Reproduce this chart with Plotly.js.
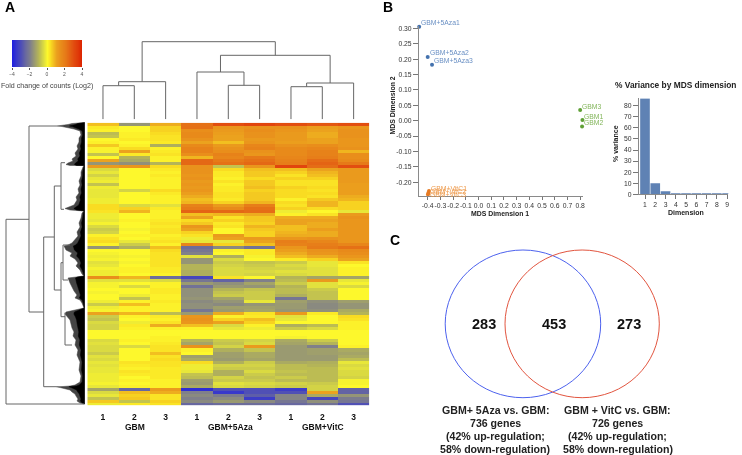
<!DOCTYPE html>
<html>
<head>
<meta charset="UTF-8">
<script src="https://cdn.plot.ly/plotly-3.0.1.min.js"></script>
<style>
	body { margin: 0; background: #fff; }
	/* the reference is a soft scan, keep the edges soft too */
	#plot { filter: blur(0.4px); }
</style>
</head>
<body>
<div id="plot" style="width:742px;height:455px"></div>
<script>
	// panel A, one row per gene cluster, columns GBM 1-3, 5Aza 1-3, VitC 1-3
	var heatRows = [
		[.7,-1.6,.9,2.2,3,3.2,3,2.8,3],
		[.2,0,.5,2.2,1.3,1.4,1.4,1.1,1.3],
		[.1,0,.5,1.5,1.2,1.5,1.3,1,1.4],
		[-.9,.1,.4,1.6,1.1,1.4,1.2,.9,1.4],
		[-.8,.1,.3,1.6,1,1.4,1.2,.9,1.4],
		[0,.2,.3,1.4,1,1.2,1.2,1,1.3],
		[.1,0,.2,1,.7,1.3,1.1,1,1.3],
		[.6,.1,-1.1,1.6,1.2,1.7,1.4,1.5,1.3],
		[.1,.4,.1,1.8,1.4,1.8,1.6,1.7,1.4],
		[-.1,1,.2,1.8,1.5,1.4,1.6,1.8,.8],
		[-.8,.2,.3,1.5,1.8,1.3,1.6,1.8,1.5],
		[0,-1,.1,.8,1.7,2,1.7,1.9,1.5],
		[1,-1.2,.1,2.4,2,2.2,1.8,2.3,1.6],
		[-1.6,-1.7,-1,2.4,2.2,2.4,1.9,2.5,2],
		[1.2,1.3,.4,1.4,-.8,1.3,3.2,2.3,3],
		[-.5,0,.2,1.4,.4,.7,.7,1,1.2],
		[-.3,0,.1,1.4,.2,.6,.5,.8,1.2],
		[-.6,0,.2,1.3,.2,.6,.3,.7,1.2],
		[-.3,0,.1,1.4,.1,.4,.5,.5,1.2],
		[-.2,0,.1,1.2,.3,.6,.3,.3,1.2],
		[-.8,0,.1,1.3,.1,.6,.3,.3,1.1],
		[-.2,0,.1,1.2,.2,.7,.5,.4,1.1],
		[-.3,-.6,.4,1.3,.2,.5,.4,.3,1.1],
		[-.3,0,.2,1.1,.3,.6,.4,.4,1.1],
		[-.3,0,.1,.9,.3,.6,.4,.3,.9],
		[-.2,0,.1,.7,.2,.6,.1,.6,.8],
		[-.2,0,.1,.8,.5,.8,.4,.8,.5],
		[.4,-.5,-.4,1.8,1.2,1.9,.3,.8,.5],
		[.4,.5,.2,2,1.6,2.2,.5,.4,.5],
		[.3,.8,.1,2.5,2.4,2.3,-.2,0,-.3],
		[-.2,0,.1,.7,.8,.9,.1,.3,1.2],
		[-.2,0,.1,1,.3,.6,.9,.9,1.4],
		[-.3,.1,.2,.4,.5,.6,1,1,1.3],
		[-.1,0,.3,.6,.2,.5,1,.9,1.3],
		[-.5,0,.2,1.3,.3,.8,.7,.9,1.3],
		[-.7,-.1,.3,1,0,.6,.7,1.1,1.3],
		[-.6,0,.3,.5,0,.5,.8,.9,1.3],
		[.1,.1,.1,.3,1.2,.5,.9,.9,1.3],
		[.3,0,.2,-.2,1,1.2,1.3,1.4,1.3],
		[.4,-.3,.3,-.3,-.3,1,1.9,1.7,1.3],
		[.1,-.7,.1,1.7,.5,.7,1.8,1.9,1.7],
		[-1.6,-1.1,.7,-2.4,-1.8,-2.3,1.3,2,2.2],
		[0,0,.4,-2.2,.1,.2,1.1,1.4,1.6],
		[-.1,0,.3,-2,0,.2,.9,1.3,1.5],
		[-.2,-.1,.3,-.4,-1.1,-.1,.7,.9,1.3],
		[-.1,0,.3,-1.6,-.5,0,.2,.5,1],
		[-.4,-.1,.3,-1.6,-.7,-.8,-.7,-.3,.3],
		[-.3,0,.3,-1,-.6,-.7,-.5,-.3,0],
		[-.1,.1,.2,-1,-.5,-.6,-.6,-.4,.1],
		[-.2,.1,.2,-1.1,-.5,-.5,-.4,-.4,.1],
		[-.2,0,.1,-1.1,-.5,-.6,-.5,-.4,.1],
		[1.5,.8,-2.4,-3.2,.3,0,-1,-1.3,-1.3],
		[-.4,-.4,-.5,-2.2,-2.6,-2,-.9,1.2,-.3],
		[-.1,0,.1,-1.5,-1.7,-1.3,-.7,-.4,-.1],
		[-.1,-.5,.1,-2.3,-1.5,-1.6,-1,-.4,-.5],
		[0,0,.2,-1.7,-1,-.8,-.9,-.7,0],
		[-.1,0,.2,-1.7,-.8,-.7,-.9,-.8,0],
		[0,-.2,.1,-1.7,-.7,-.7,-1.1,-.8,0],
		[0,-.8,.1,-1.6,-1.3,-.7,-2.2,-.8,0],
		[-.2,.1,.2,-1.8,-1.6,-.3,-1.4,-1.7,-1.4],
		[-.7,.7,.1,-1.7,-1.8,-1.6,-1.5,-1.8,-1.6],
		[-.2,.1,.1,-1.7,-1.4,-1.4,-1.5,-1.8,-1.6],
		[-.1,.1,.1,-2.2,-1.5,-1.3,-1.6,-1.7,-1.2],
		[1,.8,-.9,-1.5,.9,.3,1.2,.2,-1],
		[-.7,.1,.2,1.3,.1,.2,-.4,0,.4],
		[-.8,0,.1,1.4,.5,.7,-.3,0,.3],
		[-.5,-.2,.3,1.3,1,.5,0,0,.1],
		[-.6,.2,.9,.7,-.5,.1,-1.1,-.9,.1],
		[-.6,.1,.1,.1,-.3,-.2,-.7,-.5,.1],
		[0,0,0,0,0,0,0,0,0],
		[0,0,0,0,0,0,0,0,0],
		[0,0,.1,0,0,0,-.1,0,0],
		[-.5,.1,.1,-1,-.7,-.6,-1.2,-.7,0],
		[-.4,0,.2,-1.3,-.8,-.5,-1.3,-1,0],
		[-.5,-.5,.3,1.4,-.6,1.2,-1.5,-2,.1],
		[-.5,0,.3,.1,-1.1,-.8,-1.5,-1.4,-1.2],
		[-.7,0,.7,0,-1.4,-1.2,-1.5,-1.4,-1.3],
		[-.4,0,.3,-1.4,-1.4,-1.2,-1.5,-1.5,-1.2],
		[-.5,0,.4,-1.2,-1.5,-1.3,-1.5,-1.5,-.9],
		[-.3,.3,.3,.4,-1.1,-.7,-1.2,-1.1,-.3],
		[-.4,.2,.3,-.2,-.6,-.6,-.9,-1,-.5],
		[-.3,.1,.2,-.2,-.7,-.7,-.9,-.9,-.4],
		[-.3,.3,.2,-.3,-1.1,-.5,-.8,-.9,-.5],
		[-.2,.2,.2,-.8,-1.1,-.7,-.9,-.9,-.5],
		[-.2,0,.2,-.9,-.6,-.8,-.7,-.9,-.6],
		[-.2,.1,.1,-1.4,-.7,-.7,-.9,-.9,-.1],
		[-.1,0,.1,-1.5,-.4,-.5,-.6,-.7,-.1],
		[-.3,.1,.1,-1.2,-.5,-.6,-.7,-.6,0],
		[-1.3,-2.5,1.2,-3.7,-3,-3,-3.4,-.6,-2.6],
		[-.5,.7,.9,-2,-3.5,-3,-3,1,-2.6],
		[-.3,.5,.3,-1.8,-2.1,-2.7,-1.9,-1.2,-1.6],
		[-.8,.6,.3,-2,-1.8,-3.4,-1.9,-3.2,-2.1],
		[.6,-.8,.5,-1.8,-1.5,-1.8,-2.2,-1.7,-2.2],
		[-.2,.2,.3,-2.5,-2.4,-2.4,-2.5,-2.3,-3]
	];
	var sampleTicks = ['1','2','3','1','2','3','1','2','3'];
	var groupNames = ['GBM','GBM+5Aza','GBM+VitC'];

	var keyValues = [-4,-3.5,-3,-2.5,-2,-1.5,-1,-.5,-.25,0,.25,.5,1,1.5,2,2.5,3,3.5,4];
	var keyTicks = [-4,-2,0,2,4];

	// column tree: [left, right, height]. ids 0-8 are samples, next ids are the merges
	var colMerges = [
		[0,1,33.6],[9,2,37.6],
		[4,5,34],[3,11,47.3],
		[6,7,32.6],[13,8,36.3],
		[12,14,64],[10,15,77.6]
	];

	// row tree branches, null breaks the line
	var treeX = [29,6,6,84,null, 57,29,29,43.7,null, 43.7,43.7,56,null, 54.3,43.7,null,
		65,61,61,64,null, 61,54.3,54.3,61,null, 63,61,61,65,null, 70,63,63,68,null, 65,65,72,null];
	var treeY = [219.3,219.3,404,404,null, 126,126,312,312,null, 237,386.7,386.7,null, 237,237,null,
		162.7,162.7,209.3,209.3,null, 186,186,290,290,null, 262.7,262.7,316.7,316.7,null, 245,245,280,280,null, 312.7,345,345,null];
	// left edge of the packed leaves, outer speckled part
	var leafX = [84.7,76,72,68,62,57,62,68,74,80,81,79,79,77,78,75,76,72,73,68,66,70,84,
		83,81,81,79,80,78,79,76,77,74,65,70,84,
		82,81,79,80,77,78,75,72,68,64,66,72,70,75,78,76,80,82,84,
		72,68,70,72,74,77,75,80,82,84,
		66,65,68,70,71,72,74,73,76,75,78,77,80,79,81,80,
		75,70,63,56,60,65,70,72,75,76,78,77,80,84.7];
	var leafY = [122.6,123,123.5,124.5,125.5,126,126.5,127.5,129,131,135,138,142,146,149,153,156,159,161,163,164.5,165.5,165.5,
		167,172,176,181,185,189,193,197,200,205,208.5,210,211,
		213,218,223,227,232,236,240,243,245,246,250,253,256,259,263,266,270,274,276,
		277,278,283,287,291,295,298,300,303,308,
		312,314,317,320,324,328,332,336,340,345,350,355,362,370,376,382,
		385,386,386.5,386.7,387.5,388.5,390,392,394,396,399,401,403,404];

	// panel B
	var azaX = [-.467,-.40,-.366];
	var azaY = [.305,.207,.182];
	var azaNames = ['GBM+5Aza1','GBM+5Aza2','GBM+5Aza3'];
	var gbmX = [.80,.818,.815];
	var gbmY = [.035,.002,-.019];
	var gbmNames = ['GBM3','GBM1','GBM2'];
	var vitX = [-.39,-.395,-.398];
	var vitY = [-.228,-.235,-.24];
	var vitNames = ['GBM+VitC1','GBM+VitC2','GBM+VitC3'];
	var mdsXTicks = [-.4,-.3,-.2,-.1,0,.1,.2,.3,.4,.5,.6,.7,.8];
	var mdsXLabels = ['-0.4','-0.3','-0.2','-0.1','0.0','0.1','0.2','0.3','0.4','0.5','0.6','0.7','0.8'];
	var mdsYTicks = [-.2,-.15,-.1,-.05,0,.05,.1,.15,.2,.25,.3];
	var mdsYLabels = ['-0.20','-0.15','-0.10','-0.05','0.00','0.05','0.10','0.15','0.20','0.25','0.30'];

	var dims = [1,2,3,4,5,6,7,8,9];
	var variance = [86.5,10,2.7,.7,.2,.1,.05,.03,.02];

	// panel C
	var vennNumbers = ['283','453','273'];
	var leftCaption = ['GBM+ 5Aza vs. GBM:','736 genes','(42% up-regulation;','58% down-regulation)'];
	var rightCaption = ['GBM + VitC vs. GBM:','726 genes','(42% up-regulation;','58% down-regulation)'];

	var W = 742, H = 455;
	var SANS = '"Liberation Sans", Arial, sans-serif';

	function domX(a, b) { return [a/W, b/W]; }
	function domY(top, bottom) { return [1-bottom/H, 1-top/H]; }

	var heatScale = [
		[0,'#2020e0'],[.25,'#80808a'],[.375,'#b4b458'],[.44,'#dcdc40'],[.5,'#fdf82c'],
		[.55,'#f9dc22'],[.625,'#eba21e'],[.75,'#e67a18'],[.875,'#e24e10'],[1,'#dc2000']
	];

	// turn merges into one line trace per tree
	function colTree()
	{
		var pos = [], hgt = [], x = [], y = [];
		for(var i=0;i<9;i++) { pos.push(i); hgt.push(0); }
		colMerges.forEach(function(m)
		{
			x.push(pos[m[0]], pos[m[0]], pos[m[1]], pos[m[1]], null);
			y.push(hgt[m[0]], m[2], m[2], hgt[m[1]], null);
			pos.push((pos[m[0]]+pos[m[1]])/2);
			hgt.push(m[2]);
		});
		return {x: x, y: y};
	}

	function blank(extra)
	{
		var a = {visible: false, fixedrange: true, showgrid: false, zeroline: false};
		for(var k in extra) a[k] = extra[k];
		return a;
	}

	function note(text, x, y, size, color, bold)
	{
		return {
			text: text, xref: 'paper', yref: 'paper', x: x/W, y: 1-y/H,
			xanchor: 'center', yanchor: 'middle', showarrow: false,
			font: {family: SANS, size: size, color: color, weight: bold ? 700 : 400}
		};
	}

	// point label just up and right of its marker
	function pointNote(text, x, y, color, dy)
	{
		return {
			text: text, xref: 'x5', yref: 'y5', x: x, y: y, xshift: 0, yshift: dy,
			xanchor: 'left', yanchor: 'middle', showarrow: false,
			font: {family: SANS, size: 6.8, color: color}
		};
	}

	function points(x, y, color)
	{
		return {
			type: 'scatter', mode: 'markers', x: x, y: y, xaxis: 'x5', yaxis: 'y5',
			cliponaxis: false, marker: {color: color, size: 4}, hoverinfo: 'skip'
		};
	}

	var tree = colTree();
	var data = [
		{
			type: 'heatmap', z: heatRows, xaxis: 'x', yaxis: 'y',
			zmin: -4, zmax: 4, colorscale: heatScale, showscale: false, hoverinfo: 'skip'
		},
		{
			type: 'heatmap', x: keyValues, y: [0], z: [keyValues], xaxis: 'x2', yaxis: 'y2',
			zmin: -4, zmax: 4, colorscale: heatScale, showscale: false, zsmooth: 'best', hoverinfo: 'skip'
		},
		{
			type: 'scatter', mode: 'lines', x: tree.x, y: tree.y, xaxis: 'x3', yaxis: 'y3',
			line: {color: '#666', width: 1}, hoverinfo: 'skip'
		},
		{
			type: 'scatter', mode: 'lines', x: leafX, y: leafY, xaxis: 'x4', yaxis: 'y4',
			fill: 'toself', fillcolor: '#444', line: {color: '#444', width: .5}, hoverinfo: 'skip'
		},
		{
			type: 'scatter', mode: 'lines', y: leafY, xaxis: 'x4', yaxis: 'y4',
			x: leafX.map(function(v){ return 84.7-(84.7-v)*0.55; }),
			fill: 'toself', fillcolor: '#000', line: {color: '#000', width: .5}, hoverinfo: 'skip'
		},
		{
			type: 'scatter', mode: 'lines', x: treeX, y: treeY, xaxis: 'x4', yaxis: 'y4',
			line: {color: '#666', width: 1}, hoverinfo: 'skip'
		},
		points(azaX, azaY, '#4472ae'),
		points(gbmX, gbmY, '#5fa035'),
		points(vitX, vitY, '#e67a22'),
		{
			type: 'bar', x: dims, y: variance, xaxis: 'x6', yaxis: 'y6',
			width: .94, marker: {color: '#5f82b4'}, hoverinfo: 'skip'
		},
		{type: 'scatter', mode: 'markers', x: [], y: [], xaxis: 'x7', yaxis: 'y7', hoverinfo: 'skip'}
	];

	var annotations = [
		note('A', 10, 7, 14, '#000', true),
		note('B', 388, 7, 14, '#000', true),
		note('C', 395, 240, 14, '#000', true),
		note('Fold change of counts (Log2)', 47, 85.5, 7.1, '#444', false),
		note(groupNames[0], 135, 427, 8.5, '#111', true),
		note(groupNames[1], 230, 427, 8.5, '#111', true),
		note(groupNames[2], 323, 427, 8.5, '#111', true),
		note('MDS Dimension 1', 500, 213, 6.9, '#222', true),
		note('% Variance by MDS dimension', 675.5, 85, 8.4, '#222', true),
		note('Dimension', 686, 212.5, 7, '#222', true),
		note(vennNumbers[0], 483.7, 323.7, 14.5, '#111', true),
		note(vennNumbers[1], 553.5, 323.7, 14.5, '#111', true),
		note(vennNumbers[2], 629, 323.7, 14.5, '#111', true)
	];
	var yMds = note('MDS Dimension 2', 391.5, 105, 6.9, '#222', true);
	yMds.textangle = -90;
	annotations.push(yMds);
	var yVar = note('% variance', 615, 144, 7, '#222', true);
	yVar.textangle = -90;
	annotations.push(yVar);

	for(var j=0;j<3;j++)
	{
		annotations.push(pointNote(azaNames[j], azaX[j], azaY[j], '#6a90c4', 4));
		annotations.push(pointNote(gbmNames[j], gbmX[j], gbmY[j], '#84b65c', 3.7));
	}
	annotations.push(pointNote(vitNames[0], vitX[0], vitY[0], '#ee9a4c', 2));
	annotations.push(pointNote(vitNames[1], vitX[1], vitY[1], '#ee9a4c', 2));
	annotations.push(pointNote(vitNames[2], vitX[2], vitY[2], '#ee9a4c', 0));

	var captionY = [410,423.2,436.2,448.6];
	for(var i=0;i<4;i++)
	{
		annotations.push(note(leftCaption[i], 495.3, captionY[i], 10.6, '#222', true));
		annotations.push(note(rightCaption[i], 617.7, captionY[i], 10.6, '#222', true));
	}

	var chartAxis = {
		fixedrange: true, showgrid: false, zeroline: false, showline: true, tickangle: 0,
		linecolor: '#8a8a8a', linewidth: 1, ticks: 'outside', tickcolor: '#777', tickwidth: 1,
		tickfont: {family: SANS, size: 6.8, color: '#333'}
	};
	function chartAx(extra)
	{
		var a = {};
		for(var k in chartAxis) a[k] = chartAxis[k];
		for(var k2 in extra) a[k2] = extra[k2];
		return a;
	}

	var layout = {
		width: W, height: H, autosize: false,
		margin: {l: 0, r: 0, t: 0, b: 0},
		paper_bgcolor: '#fff', plot_bgcolor: 'rgba(0,0,0,0)',
		showlegend: false,
		annotations: annotations,
		xaxis: {
			domain: domX(87.3,369.3), range: [-.5,8.5], fixedrange: true, showgrid: false, zeroline: false,
			tickvals: dims.map(function(d){ return d-1; }), ticktext: sampleTicks, ticks: '', ticklabelstandoff: 5,
			tickfont: {family: SANS, size: 8.5, color: '#111', weight: 700}, anchor: 'y'
		},
		yaxis: blank({domain: domY(122.7,405.3), range: [93.5,-.5], anchor: 'x'}),
		xaxis2: {
			domain: domX(12,82), range: [-4,4], fixedrange: true, showgrid: false, zeroline: false,
			tickvals: keyTicks, ticks: 'outside', ticklen: 2, tickwidth: .5, tickcolor: '#555',
			tickfont: {family: SANS, size: 5, color: '#555'}, anchor: 'y2'
		},
		yaxis2: blank({domain: domY(40,67), range: [-.5,.5], anchor: 'x2'}),
		xaxis3: blank({domain: domX(87.3,369.3), range: [-.5,8.5], anchor: 'y3'}),
		yaxis3: blank({domain: domY(40,119.3), range: [0,79.3], anchor: 'x3'}),
		xaxis4: blank({domain: domX(0,86), range: [0,86], anchor: 'y4'}),
		yaxis4: blank({domain: domY(122,406), range: [406,122], anchor: 'x4'}),
		xaxis5: chartAx({
			domain: domX(419,582.7), range: [-.4685,.82], tickvals: mdsXTicks, ticktext: mdsXLabels,
			ticklen: 3, anchor: 'y5'
		}),
		yaxis5: chartAx({
			domain: domY(26,196), range: [-.2445,.3075], tickvals: mdsYTicks, ticktext: mdsYLabels,
			ticklen: 5, anchor: 'x5'
		}),
		xaxis6: chartAx({
			domain: domX(639,728.3), range: [.415,9.12], tickvals: dims, ticklen: 4, anchor: 'y6'
		}),
		yaxis6: chartAx({
			domain: domY(98.3,194.3), range: [0,86.7], tickvals: [0,10,20,30,40,50,60,70,80],
			ticklen: 5, tickwidth: 1.2, anchor: 'x6'
		}),
		xaxis7: blank({domain: [0,1], range: [0,W], anchor: 'y7'}),
		yaxis7: blank({domain: [0,1], range: [H,0], anchor: 'x7'}),
		shapes: [
			{type: 'circle', xref: 'x7', yref: 'y7', x0: 445.2, x1: 600.7, y0: 250, y1: 397.7, line: {color: '#4d62ee', width: 1}},
			{type: 'circle', xref: 'x7', yref: 'y7', x0: 505, x1: 659.3, y0: 250, y1: 397.7, line: {color: '#e2553f', width: 1}}
		]
	};

	Plotly.newPlot('plot', data, layout, {displayModeBar: false, responsive: false});
</script>
</body>
</html>
